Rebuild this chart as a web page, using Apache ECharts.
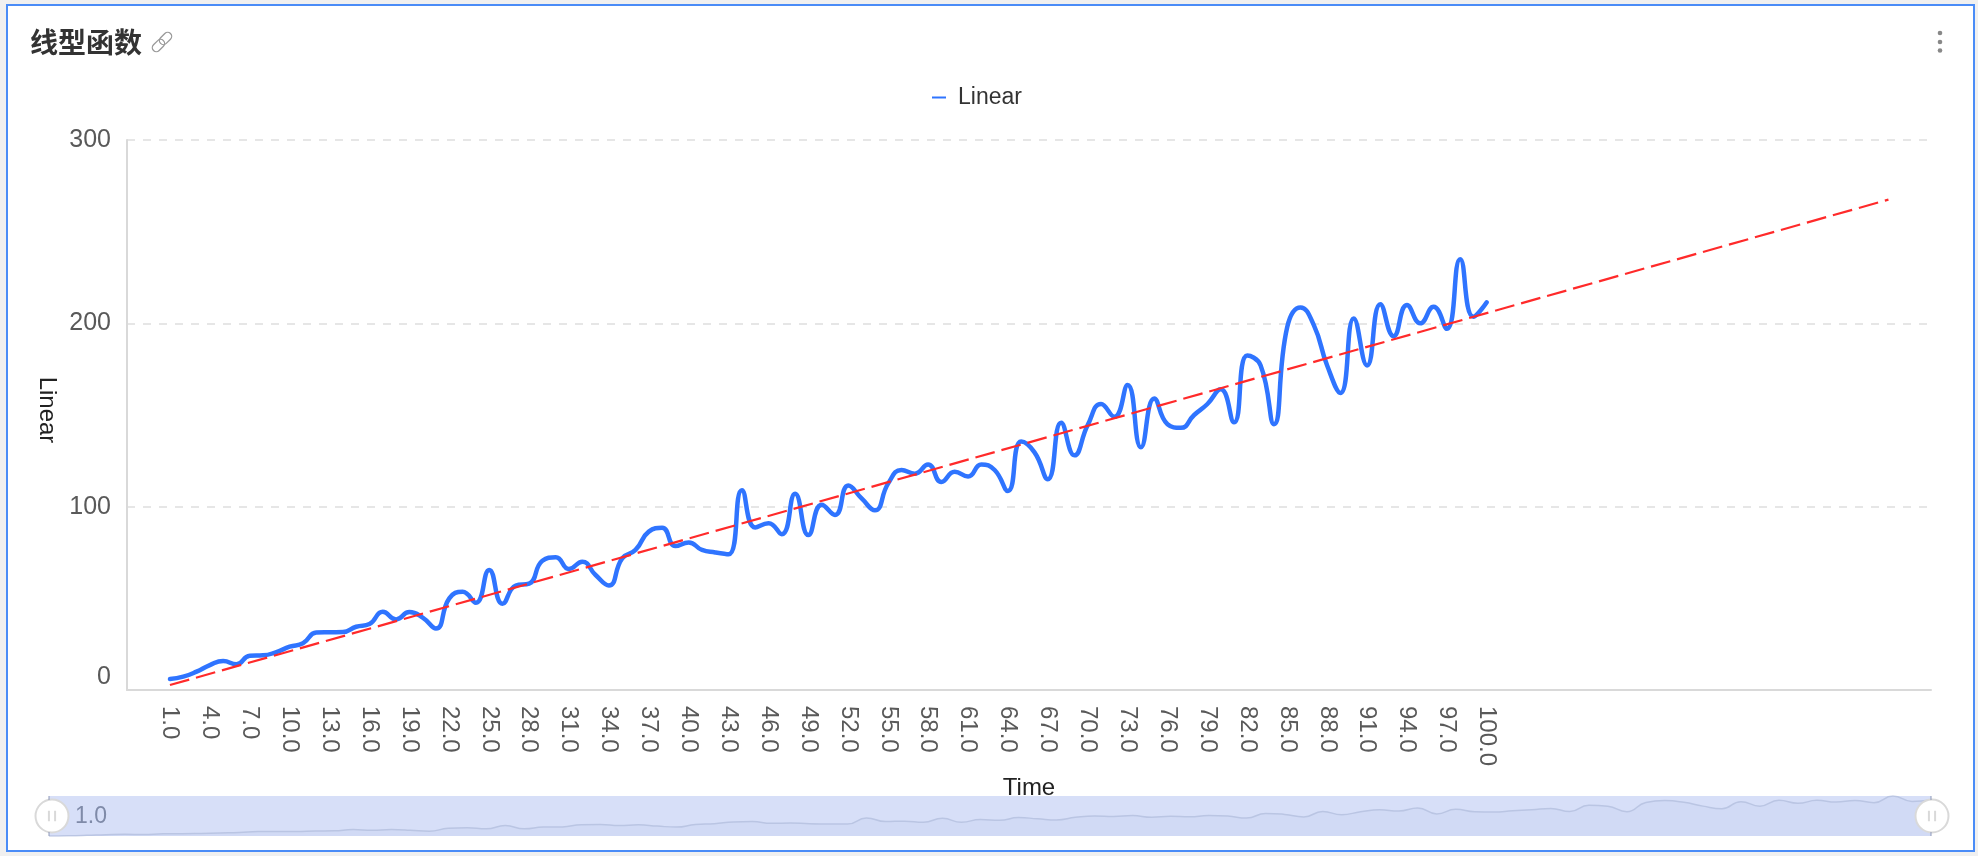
<!DOCTYPE html>
<html>
<head>
<meta charset="utf-8">
<style>
html,body{margin:0;padding:0;width:1978px;height:856px;background:#f0f0f0;overflow:hidden}
#card{position:absolute;left:6px;top:4px;width:1965px;height:844px;background:#fff;border:2px solid #4a8cf7}
#chart{position:absolute;left:0;top:0;width:1978px;height:856px}
</style>
<script src="https://cdn.jsdelivr.net/npm/echarts@6/dist/echarts.min.js"></script>
</head>
<body>
<div id="card"></div>
<div id="chart"></div>
<script>
const chartTitle = '线型函数';
const seriesName = 'Linear';
const xName = 'Time';
const yName = 'Linear';
const xTickValues = [1,4,7,10,13,16,19,22,25,28,31,34,37,40,43,46,49,52,55,58,61,64,67,70,73,76,79,82,85,88,91,94,97,100];
const yTickMax = 300;
const yTickStep = 100;
const linearValues = [
  6,7.3,10,13.6,15.8,14,18.7,18.9,20.7,23.6,
  25.5,31.3,31.5,31.6,34.5,36,42.7,38.5,42.5,39.5,
  33.5,50,53.6,47.6,65.5,47,57,58,70.5,72.4,
  66,70,62.7,57,71.8,76.4,86.4,88.5,78.5,80.5,
  76.4,75,74,109,88.7,91,85,107,84.5,101,
  95.5,111.5,104.5,98,112.7,120,118,123,113.5,119,
  116.5,123,120,108.6,135.5,129.6,115,145.8,128,144.5,
  156,149,166.4,132.4,159,145,143,150,156,164,
  146,182.4,177,145,198,208.7,199,177,162,202.7,
  177,210.4,193,210,200,209,197,235,203.6,211.5
];
const regressionX = [1, 130.2];
const regressionY = [2.7, 267.5];

const font = '"Liberation Sans", Arial, sans-serif';
const linearPoints = linearValues.map((v, i) => [i + 1, v]);
const regressionPoints = regressionX.map((x, i) => [x, regressionY[i]]);

const chart = echarts.init(document.getElementById('chart'), null, {renderer: 'canvas'});
const sticks = [49, 1931].flatMap(x => [[x, 796, 800], [x, 832, 836]]).map(s => ({
  type: 'line', z: 100, silent: true,
  shape: {x1: s[0], y1: s[1], x2: s[0], y2: s[2]},
  style: {stroke: '#8f99b8', lineWidth: 1}
}));
chart.setOption({
  animation: false,
  textStyle: {fontFamily: font},
  title: {
    text: chartTitle, left: 25, top: 23,
    textStyle: {fontFamily: '"Noto Sans CJK SC", sans-serif', fontSize: 28, fontWeight: 'bold', color: '#333'}
  },
  legend: {
    data: [seriesName], left: 927, top: 81, icon: 'rect', itemWidth: 14, itemHeight: 2,
    textStyle: {fontFamily: font, fontSize: 23, color: '#333', padding: [0, 0, 0, 7]}
  },
  grid: [
    {left: 127, top: 140, width: 1804, height: 550, containLabel: false},
    {left: 49, top: 796, width: 1882, height: 40, show: true, backgroundColor: '#d7dff8', borderWidth: 0}
  ],
  xAxis: [
    {
      type: 'value', gridIndex: 0, min: -2.23, max: 133.4,
      name: xName, nameLocation: 'middle', nameGap: 86,
      nameTextStyle: {fontFamily: font, fontSize: 24, color: '#222'},
      axisLine: {show: true, onZero: false, lineStyle: {color: '#d9d9d9', width: 2}},
      axisTick: {show: false},
      splitLine: {show: false},
      axisLabel: {
        customValues: xTickValues, rotate: -90, margin: 16, fontSize: 24, color: '#595959', fontFamily: font,
        formatter: v => v.toFixed(1)
      }
    },
    {type: 'value', gridIndex: 1, min: 1, max: 100, show: false}
  ],
  yAxis: [
    {
      type: 'value', gridIndex: 0, min: 0, max: yTickMax, interval: yTickStep,
      name: yName, nameLocation: 'middle', nameGap: 66, nameRotate: -90,
      nameTextStyle: {fontFamily: font, fontSize: 24, color: '#222', padding: [0, 10, 0, 0]},
      axisLine: {show: true, onZero: false, lineStyle: {color: '#d9d9d9', width: 2}},
      axisTick: {show: false},
      splitLine: {show: true, lineStyle: {color: '#e6e6e6', width: 2, type: [8, 8]}},
      axisLabel: {fontSize: 25, color: '#595959', margin: 16, fontFamily: font, verticalAlignMinLabel: 'bottom'}
    },
    {type: 'value', gridIndex: 1, min: Math.min(...linearValues), max: Math.max(...linearValues), show: false}
  ],
  dataZoom: [{
    type: 'slider', xAxisIndex: 0, filterMode: 'none', start: 0, end: 100,
    left: 49, width: 1882, top: 796, height: 40,
    backgroundColor: 'transparent', borderColor: 'transparent', fillerColor: 'transparent',
    showDetail: false, showDataShadow: false, brushSelect: false, moveHandleSize: 0,
    handleSize: 33,
    handleIcon: 'path://M0,-16A16,16,0,1,1,0,16A16,16,0,1,1,0,-16ZM-3,-5L-3,5ZM3,-5L3,5Z',
    handleStyle: {color: '#fff', borderColor: '#d9d9d9', borderWidth: 2}
  }],
  series: [
    {
      name: seriesName, type: 'line', xAxisIndex: 0, yAxisIndex: 0, data: linearPoints,
      smooth: 0.5, showSymbol: false, symbol: 'none', z: 3,
      itemStyle: {color: '#2f74ff'},
      lineStyle: {color: '#2f74ff', width: 4.5, cap: 'round', join: 'round'}
    },
    {
      name: 'regression', type: 'line', xAxisIndex: 0, yAxisIndex: 0, data: regressionPoints,
      showSymbol: false, symbol: 'none', z: 4, silent: true,
      lineStyle: {color: '#ff2a2a', width: 2.2, type: [20, 7]}
    },
    {
      name: 'overview', type: 'line', xAxisIndex: 1, yAxisIndex: 1, data: linearPoints,
      smooth: 0.5, showSymbol: false, symbol: 'none', silent: true, z: 2,
      lineStyle: {color: '#bac5e3', width: 1.5},
      areaStyle: {color: 'rgba(170,182,220,0.18)', origin: 'start'}
    }
  ],
  graphic: [
    {
      type: 'group', x: 162, y: 42, rotation: -Math.PI / 4, silent: true,
      children: [
        {type: 'rect', shape: {x: -4, y: -12, width: 8, height: 14, r: 4}, style: {fill: 'none', stroke: '#999', lineWidth: 1.3}},
        {type: 'rect', shape: {x: -4, y: -2, width: 8, height: 14, r: 4}, style: {fill: 'none', stroke: '#999', lineWidth: 1.3}}
      ]
    },
    {type: 'circle', silent: true, shape: {cx: 1940, cy: 33, r: 2.3}, style: {fill: '#888'}},
    {type: 'circle', silent: true, shape: {cx: 1940, cy: 42, r: 2.3}, style: {fill: '#888'}},
    {type: 'circle', silent: true, shape: {cx: 1940, cy: 50.5, r: 2.3}, style: {fill: '#888'}},
    {
      type: 'text', z: 100, silent: true, x: 75, y: 817,
      style: {text: '1.0', fontFamily: font, fontSize: 23, fill: '#7f8aa8', verticalAlign: 'middle', align: 'left'}
    },
    ...sticks
  ]
});
</script>
</body>
</html>
